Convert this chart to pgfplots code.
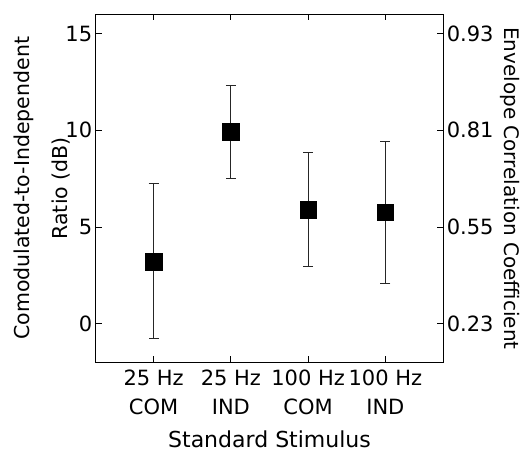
\documentclass[border=0pt]{standalone}
\usepackage{fontspec}
\setmainfont{DejaVu Sans}
\usepackage{pgfplots}
\pgfplotsset{compat=1.18}

\pgfplotsset{
  refaxis/.style={
    at={(0,0)}, anchor=south west,
    scale only axis, width=347.6pt, height=348pt,
    xmin=0.25, xmax=4.75, ymin=-2, ymax=16,
    tick align=inside, major tick length=6pt,
    axis line style={line width=0.8pt},
    every tick/.style={black, line width=0.8pt},
    font=\fontsize{21}{25}\selectfont,
    /pgf/number format/assume math mode=true,
  }
}

\begin{document}
\begin{tikzpicture}
\useasboundingbox (-95.7pt,-92.7pt) rectangle (431.3pt,362.3pt);

\begin{axis}[
    refaxis,
    xtick={1,2,3,4},
    xticklabels={{25 Hz\\COM},{25 Hz\\IND},{100 Hz\\COM},{100 Hz\\IND}},
    xticklabel style={align=center, font=\fontsize{21}{29}\selectfont, yshift=-4pt},
    ytick={0,5,10,15},
    ytick pos=left,
    xlabel={Standard Stimulus},
    xlabel style={at={(axis description cs:0.5,-0.2434)}, anchor=base,
        font=\fontsize{22}{26}\selectfont},
    ylabel={Comodulated-to-Independent\\Ratio (dB)},
    ylabel style={align=center, font=\fontsize{20.5}{38}\selectfont,
        at={(axis description cs:-0.062,0.5)}, anchor=south},
]
% mean with asymmetric error bars
\addplot[only marks, mark=square*, mark size=8.3pt,
    mark options={draw=black, fill=black, line width=0.4pt},
    error bars/.cd, y dir=both, y explicit,
    error bar style={line width=1pt, black!85},
    error mark options={rotate=90, mark size=5pt, line width=1pt, black!85}]
coordinates {
    (1,3.19) += (0,4.04) -= (0,3.98)
    (2,9.92) += (0,2.41) -= (0,2.42)
    (3,5.90) += (0,2.93) -= (0,2.94)
    (4,5.76) += (0,3.64) -= (0,3.69)
};
\end{axis}

% right axis: envelope correlation coefficient
\begin{axis}[
    refaxis,
    axis x line=none, axis y line*=right,
    ytick={0,5,10,15},
    yticklabels={0.23,0.55,0.81,0.93},
    ylabel={Envelope Correlation Coefficient},
    ylabel style={rotate=180, font=\fontsize{20}{24}\selectfont,
        at={(axis description cs:1.1545,0.5)}, anchor=south},
]
\end{axis}
\end{tikzpicture}
\end{document}
